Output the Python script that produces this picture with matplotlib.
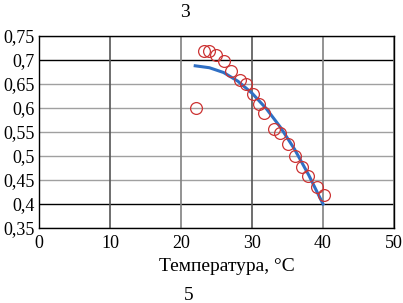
import matplotlib.pyplot as plt
from matplotlib.ticker import FuncFormatter

plt.rcParams['font.family'] = ['Liberation Serif', 'DejaVu Serif']

# измеренные точки
t_meas = [22.1, 23.2, 24.0, 24.9, 26.1, 27.1, 28.3, 29.2, 30.2, 31.0, 31.7,
          33.1, 33.9, 35.0, 36.0, 37.0, 37.9, 39.1, 40.2]
v_meas = [0.600, 0.719, 0.719, 0.710, 0.699, 0.678, 0.658, 0.651, 0.629, 0.608, 0.589,
          0.556, 0.549, 0.526, 0.500, 0.478, 0.458, 0.436, 0.419]

# аппроксимация
t_fit = [22, 24, 26, 28, 30, 32, 34, 36, 38, 40]
v_fit = [0.688, 0.684, 0.674, 0.656, 0.631, 0.599, 0.560, 0.514, 0.460, 0.400]

x_ticks = [0, 10, 20, 30, 40, 50]
y_ticks = [0.35, 0.4, 0.45, 0.5, 0.55, 0.6, 0.65, 0.7, 0.75]

fig = plt.figure(figsize=(4.03, 3.03), dpi=100)
ax = fig.add_axes([0.0968, 0.2475, 0.8809, 0.6335])

for y in y_ticks:
    c = 'black' if y in (0.4, 0.7) else '#a0a0a0'
    ax.axhline(y, color=c, lw=1.0, zorder=1)
for x in x_ticks:
    c = '#555555' if x in (10, 30) else '#808080'
    ax.axvline(x, color=c, lw=1.2, zorder=1)

ax.plot(t_fit, v_fit, color='#2f6fc4', lw=2.2, zorder=3)
ax.plot(t_meas, v_meas, 'o', mfc='none', mec='#cc3333', mew=0.9, ms=8.5, zorder=4)

ax.set_xlim(0, 50)
ax.set_ylim(0.35, 0.75)
ax.set_xticks(x_ticks)
ax.set_yticks(y_ticks)
ax.yaxis.set_major_formatter(FuncFormatter(lambda v, p: ('%g' % round(v, 2)).replace('.', ',')))
ax.tick_params(length=0, labelsize=13)
ax.tick_params(axis='x', pad=5)
ax.tick_params(axis='y', pad=3)
for s in ax.spines.values():
    s.set_color('black')
    s.set_linewidth(1.0)

ax.set_xlabel('Температура, °C', fontsize=14, labelpad=0)
ax.xaxis.set_label_coords(0.53, -0.155)
fig.text(0.46, 0.96, '3', ha='center', va='center', fontsize=14)
fig.text(0.467, 0.025, '5', ha='center', va='center', fontsize=14)

fig.savefig('out.png', dpi=100)
